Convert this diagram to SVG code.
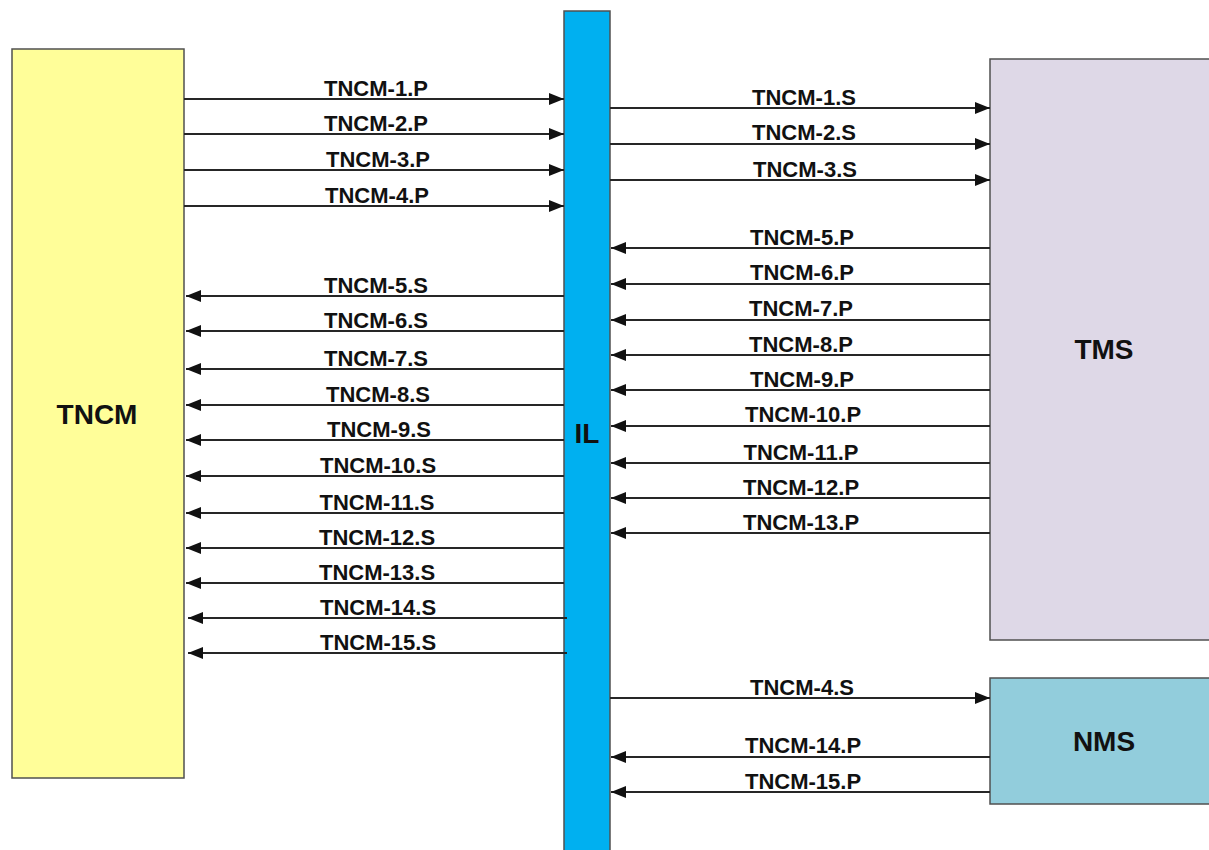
<svg xmlns="http://www.w3.org/2000/svg" width="1209" height="850" viewBox="0 0 1209 850">
<style>
.box{stroke:#505050;stroke-width:1.5}
.ln{stroke:#262626;stroke-width:2;fill:none}
.lbl{font-family:"Liberation Sans",Arial,sans-serif;font-weight:bold;font-size:22px;fill:#111;text-anchor:middle}
.big{font-family:"Liberation Sans",Arial,sans-serif;font-weight:bold;font-size:28px;fill:#111;text-anchor:middle}
</style>
<defs>
<marker id="ah" markerWidth="15" markerHeight="12" refX="15" refY="6" orient="auto" markerUnits="userSpaceOnUse">
<path d="M0,0 L15,6 L0,12 Z" fill="#111"/>
</marker>
</defs>
<rect width="1209" height="850" fill="#fff"/>
<g id="TNCM">
<rect class="box" x="12" y="49" width="172" height="729" fill="#FFFE99"/>
<text class="big" x="97" y="424">TNCM</text>
</g>
<g id="IL">
<rect class="box" x="564" y="11" width="46" height="845" fill="#00B0F0"/>
<text class="big" x="587" y="443">IL</text>
</g>
<g id="TMS">
<rect class="box" x="990" y="59" width="225" height="581" fill="#DED8E7"/>
<text class="big" x="1104" y="359">TMS</text>
</g>
<g id="NMS">
<rect class="box" x="990" y="678" width="225" height="126" fill="#92CDDC"/>
<text class="big" x="1104" y="751">NMS</text>
</g>
<g id="connectors">
<line class="ln" x1="184" y1="99" x2="564" y2="99" marker-end="url(#ah)"/>
<line class="ln" x1="184" y1="134" x2="564" y2="134" marker-end="url(#ah)"/>
<line class="ln" x1="184" y1="170" x2="564" y2="170" marker-end="url(#ah)"/>
<line class="ln" x1="184" y1="206" x2="564" y2="206" marker-end="url(#ah)"/>
<line class="ln" x1="564" y1="296" x2="186" y2="296" marker-end="url(#ah)"/>
<line class="ln" x1="564" y1="331" x2="186" y2="331" marker-end="url(#ah)"/>
<line class="ln" x1="564" y1="369" x2="186" y2="369" marker-end="url(#ah)"/>
<line class="ln" x1="564" y1="405" x2="186" y2="405" marker-end="url(#ah)"/>
<line class="ln" x1="564" y1="440" x2="186" y2="440" marker-end="url(#ah)"/>
<line class="ln" x1="564" y1="476" x2="186" y2="476" marker-end="url(#ah)"/>
<line class="ln" x1="564" y1="513" x2="186" y2="513" marker-end="url(#ah)"/>
<line class="ln" x1="564" y1="548" x2="186" y2="548" marker-end="url(#ah)"/>
<line class="ln" x1="564" y1="583" x2="186" y2="583" marker-end="url(#ah)"/>
<line class="ln" x1="567" y1="618" x2="188" y2="618" marker-end="url(#ah)"/>
<line class="ln" x1="567" y1="653" x2="188" y2="653" marker-end="url(#ah)"/>
<line class="ln" x1="610" y1="108" x2="990" y2="108" marker-end="url(#ah)"/>
<line class="ln" x1="610" y1="144" x2="990" y2="144" marker-end="url(#ah)"/>
<line class="ln" x1="610" y1="180" x2="990" y2="180" marker-end="url(#ah)"/>
<line class="ln" x1="990" y1="248" x2="611" y2="248" marker-end="url(#ah)"/>
<line class="ln" x1="990" y1="284" x2="611" y2="284" marker-end="url(#ah)"/>
<line class="ln" x1="990" y1="320" x2="611" y2="320" marker-end="url(#ah)"/>
<line class="ln" x1="990" y1="355" x2="611" y2="355" marker-end="url(#ah)"/>
<line class="ln" x1="990" y1="390" x2="611" y2="390" marker-end="url(#ah)"/>
<line class="ln" x1="990" y1="426" x2="611" y2="426" marker-end="url(#ah)"/>
<line class="ln" x1="990" y1="463" x2="611" y2="463" marker-end="url(#ah)"/>
<line class="ln" x1="990" y1="498" x2="611" y2="498" marker-end="url(#ah)"/>
<line class="ln" x1="990" y1="533" x2="611" y2="533" marker-end="url(#ah)"/>
<line class="ln" x1="610" y1="698" x2="990" y2="698" marker-end="url(#ah)"/>
<line class="ln" x1="990" y1="757" x2="611" y2="757" marker-end="url(#ah)"/>
<line class="ln" x1="990" y1="792" x2="611" y2="792" marker-end="url(#ah)"/>
<text class="lbl" x="376" y="96">TNCM-1.P</text>
<text class="lbl" x="376" y="131">TNCM-2.P</text>
<text class="lbl" x="378" y="167">TNCM-3.P</text>
<text class="lbl" x="377" y="203">TNCM-4.P</text>
<text class="lbl" x="376" y="293">TNCM-5.S</text>
<text class="lbl" x="376" y="328">TNCM-6.S</text>
<text class="lbl" x="376" y="366">TNCM-7.S</text>
<text class="lbl" x="378" y="402">TNCM-8.S</text>
<text class="lbl" x="379" y="437">TNCM-9.S</text>
<text class="lbl" x="378" y="473">TNCM-10.S</text>
<text class="lbl" x="377" y="510">TNCM-11.S</text>
<text class="lbl" x="377" y="545">TNCM-12.S</text>
<text class="lbl" x="377" y="580">TNCM-13.S</text>
<text class="lbl" x="378" y="615">TNCM-14.S</text>
<text class="lbl" x="378" y="650">TNCM-15.S</text>
<text class="lbl" x="804" y="105">TNCM-1.S</text>
<text class="lbl" x="804" y="140">TNCM-2.S</text>
<text class="lbl" x="805" y="177">TNCM-3.S</text>
<text class="lbl" x="802" y="245">TNCM-5.P</text>
<text class="lbl" x="802" y="280">TNCM-6.P</text>
<text class="lbl" x="801" y="316">TNCM-7.P</text>
<text class="lbl" x="801" y="352">TNCM-8.P</text>
<text class="lbl" x="802" y="387">TNCM-9.P</text>
<text class="lbl" x="803" y="422">TNCM-10.P</text>
<text class="lbl" x="801" y="460">TNCM-11.P</text>
<text class="lbl" x="801" y="495">TNCM-12.P</text>
<text class="lbl" x="801" y="530">TNCM-13.P</text>
<text class="lbl" x="802" y="695">TNCM-4.S</text>
<text class="lbl" x="803" y="753">TNCM-14.P</text>
<text class="lbl" x="803" y="789">TNCM-15.P</text>
</g>
</svg>
